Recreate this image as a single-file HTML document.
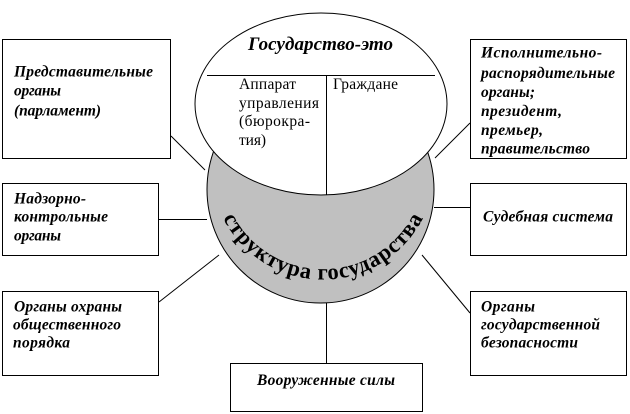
<!DOCTYPE html>
<html><head><meta charset="utf-8"><style>
html,body{margin:0;padding:0;background:#fff;width:630px;height:414px;overflow:hidden}
svg{display:block}
text{font-family:"Liberation Serif","Noto Serif CJK SC",serif;fill:#000}
.b{font-weight:bold;font-style:italic;font-size:15.5px}
.r{font-size:15.5px}
</style></head><body>
<svg width="630" height="414" viewBox="0 0 630 414" xmlns="http://www.w3.org/2000/svg">
<g stroke="#000" stroke-width="1" fill="none">
<line x1="171" y1="136" x2="205" y2="170"/>
<line x1="158" y1="219.5" x2="207" y2="219.5"/>
<line x1="470" y1="123" x2="435" y2="158"/>
<line x1="434" y1="207.5" x2="470" y2="207.5"/>
<line x1="159" y1="302" x2="219" y2="255"/>
<line x1="422" y1="255" x2="470" y2="313"/>
<line x1="326.5" y1="303" x2="326.5" y2="363"/>
</g>
<ellipse cx="320.5" cy="189.5" rx="113.5" ry="113.5" fill="#c0c0c0" stroke="#000"/>
<ellipse cx="321" cy="104" rx="126" ry="91" fill="#fff" stroke="#000"/>
<g stroke="#000" stroke-width="1" shape-rendering="crispEdges">
<line x1="207" y1="75.5" x2="435" y2="75.5"/>
<line x1="326.5" y1="75" x2="326.5" y2="195"/>
</g>
<g fill="#fff" stroke="#000" stroke-width="1" shape-rendering="crispEdges">
<rect x="2.5" y="39.5" width="168" height="119"/>
<rect x="2.5" y="183.5" width="156" height="72"/>
<rect x="2.5" y="291.5" width="156" height="84"/>
<rect x="470.5" y="39.5" width="156" height="119"/>
<rect x="470.5" y="183.5" width="156" height="72"/>
<rect x="470.5" y="291.5" width="156" height="84"/>
<rect x="230.5" y="363.5" width="192" height="48"/>
</g>
<text x="248" y="50" style="font-weight:bold;font-style:italic;font-size:19px" textLength="145" lengthAdjust="spacing">Государство-это</text>
<text class="r" x="239" y="89" textLength="57">Аппарат</text>
<text class="r" x="239" y="108" textLength="80">управления</text>
<text class="r" x="239" y="126" textLength="71">(бюрокра-</text>
<text class="r" x="239" y="145" textLength="27">тия)</text>
<text class="r" x="333" y="89" textLength="65">Граждане</text>
<text class="b" x="14" y="76.5" textLength="139">Представительные</text>
<text class="b" x="14" y="95.5" textLength="47">органы</text>
<text class="b" x="14" y="115.5" textLength="87">(парламент)</text>
<text class="b" x="14" y="203.5" textLength="72">Надзорно-</text>
<text class="b" x="14" y="221.5" textLength="94">контрольные</text>
<text class="b" x="14" y="240.5" textLength="47">органы</text>
<text class="b" x="14" y="311.5" textLength="108">Органы охраны</text>
<text class="b" x="13" y="329.5" textLength="108">общественного</text>
<text class="b" x="13" y="347.5" textLength="57">порядка</text>
<text class="b" x="481" y="57.5" textLength="121">Исполнительно-</text>
<text class="b" x="481" y="78" textLength="134">распорядительные</text>
<text class="b" x="481" y="97" textLength="54">органы;</text>
<text class="b" x="481" y="116" textLength="81">президент,</text>
<text class="b" x="481" y="135" textLength="62">премьер,</text>
<text class="b" x="481" y="153.5" textLength="109">правительство</text>
<text class="b" x="483" y="221.5" textLength="130">Судебная система</text>
<text class="b" x="481" y="311.5" textLength="54">Органы</text>
<text class="b" x="481" y="329.5" textLength="119">государственной</text>
<text class="b" x="481" y="347.5" textLength="97">безопасности</text>
<text class="b" x="257" y="385" textLength="138">Вооруженные силы</text>
<defs><path id="arc" d="M223 218 A112 112 0 0 0 423 218" fill="none"/></defs>
<text style="font-weight:bold;font-size:22.5px"><textPath href="#arc" startOffset="0" textLength="247" lengthAdjust="spacing">структура государства</textPath></text>
</svg>
</body></html>
